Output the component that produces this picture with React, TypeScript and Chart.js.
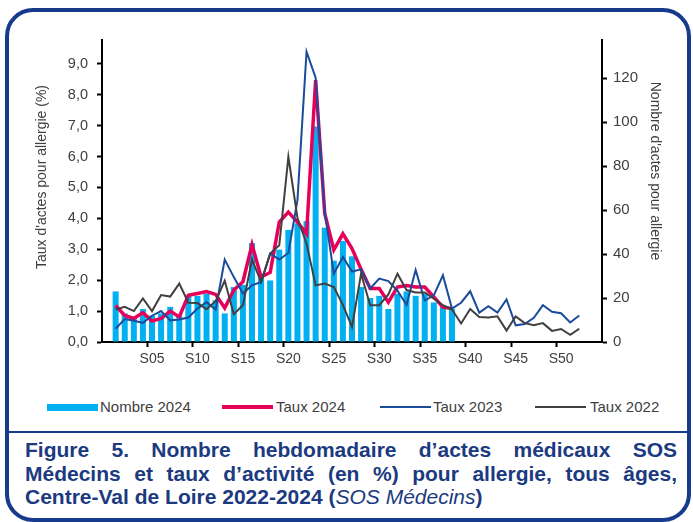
import React, { useEffect, useRef } from 'react';
import { Chart, registerables } from 'chart.js';

Chart.register(...registerables);

const weeks = [
  'S01','S02','S03','S04','S05','S06','S07','S08','S09','S10',
  'S11','S12','S13','S14','S15','S16','S17','S18','S19','S20',
  'S21','S22','S23','S24','S25','S26','S27','S28','S29','S30',
  'S31','S32','S33','S34','S35','S36','S37','S38','S39','S40',
  'S41','S42','S43','S44','S45','S46','S47','S48','S49','S50',
  'S51','S52',
];

const xTickLabels = ['S05','S10','S15','S20','S25','S30','S35','S40','S45','S50'];

const nombre2024 = [
  23, 13, 11, 15, 12, 13, 16, 12, 21, 21,
  22, 19, 13, 25, 26, 45, 31, 28, 42, 51,
  54, 55, 98, 52, 37, 46, 39, 25, 20, 21,
  15, 22, 23, 21, 22, 18, 16, 15,
];

const taux2024 = [
  1.18, 0.86, 0.76, 0.95, 0.68, 0.76, 1.0, 0.81, 1.51, 1.57,
  1.63, 1.54, 1.1, 1.68, 1.95, 3.15, 2.1, 2.25, 3.88, 4.2,
  3.88, 3.5, 8.47, 4.16, 2.98, 3.5, 3.02, 2.35, 1.73, 1.73,
  1.29, 1.78, 1.83, 1.78, 1.78, 1.46, 1.13, 1.08,
];

const taux2023 = [
  0.43, 0.74, 0.69, 0.62, 0.85, 1.0, 0.70, 0.73, 0.79, 1.08,
  1.29, 1.05, 2.67, 2.10, 1.57, 1.83, 1.94, 2.86, 2.67, 2.88,
  4.59, 9.39, 8.55, 4.2, 2.21, 2.75, 2.28, 2.35, 1.73, 2.05,
  1.97, 1.66, 1.2, 2.33, 1.34, 1.51, 2.16, 1.08, 1.27, 1.64,
  0.95, 1.16, 0.95, 1.38, 0.54, 0.58, 0.78, 1.19, 0.98, 0.93,
  0.63, 0.86,
];

const taux2022 = [
  1.05, 1.14, 1.0, 1.41, 1.0, 1.52, 1.47, 1.89, 1.27, 1.26,
  1.06, 1.32, 1.98, 0.9, 1.19, 2.67, 1.94, 2.86, 3.13, 5.99,
  4.02, 3.18, 1.83, 1.89, 1.78, 1.2, 0.49, 2.21, 1.19, 1.19,
  1.54, 2.21, 1.68, 1.6, 1.6, 1.4, 1.19, 1.05, 0.6, 1.07,
  0.81, 0.79, 0.83, 0.37, 0.83, 0.61, 0.54, 0.61, 0.36, 0.42,
  0.23, 0.43,
];

const leftTicks = [0, 1, 2, 3, 4, 5, 6, 7, 8, 9];
const rightTicks = [0, 20, 40, 60, 80, 100, 120];

const categories = ['', ...weeks, '', ''];
const pad = (arr: number[]) => [null, ...arr];

const C_BAR = '#00b0f0';
const C_RED = '#e6005a';
const C_BLUE = '#1a4c9c';
const C_GRAY = '#404040';
const C_FRAME = '#163b8c';
const C_TEXT = '#404040';
const FONT = "'Liberation Sans', Arial, sans-serif";

const axisTitles = {
  id: 'axisTitles',
  afterDraw(chart: any) {
    const ctx = chart.ctx;
    ctx.save();
    ctx.fillStyle = C_TEXT;
    ctx.font = `14px ${FONT}`;
    ctx.textAlign = 'center';
    ctx.textBaseline = 'middle';
    ctx.translate(42, 177);
    ctx.rotate(-Math.PI / 2);
    ctx.fillText("Taux d'actes pour allergie (%)", 0, 0);
    ctx.restore();
    ctx.save();
    ctx.fillStyle = C_TEXT;
    ctx.font = `14px ${FONT}`;
    ctx.textAlign = 'center';
    ctx.textBaseline = 'middle';
    ctx.translate(655, 171);
    ctx.rotate(Math.PI / 2);
    ctx.fillText("Nombre d'actes pour allergie", 0, 0);
    ctx.restore();
  },
};

export default function App() {
  const ref = useRef<HTMLCanvasElement | null>(null);

  useEffect(() => {
    if (!ref.current) return;
    const chart = new Chart(ref.current, {
      type: 'bar',
      data: {
        labels: categories,
        datasets: [
          {
            type: 'line',
            label: 'Taux 2022',
            data: pad(taux2022),
            borderColor: C_GRAY,
            backgroundColor: C_GRAY,
            borderWidth: 2,
            pointRadius: 0,
            tension: 0,
            yAxisID: 'y',
            order: 0,
          },
          {
            type: 'line',
            label: 'Taux 2023',
            data: pad(taux2023),
            borderColor: C_BLUE,
            backgroundColor: C_BLUE,
            borderWidth: 2,
            pointRadius: 0,
            tension: 0,
            yAxisID: 'y',
            order: 1,
          },
          {
            type: 'line',
            label: 'Taux 2024',
            data: pad(taux2024),
            borderColor: C_RED,
            backgroundColor: C_RED,
            borderWidth: 3.5,
            pointRadius: 0,
            tension: 0,
            yAxisID: 'y',
            order: 2,
          },
          {
            type: 'bar',
            label: 'Nombre 2024',
            data: pad(nombre2024),
            backgroundColor: C_BAR,
            borderWidth: 0,
            barPercentage: 0.66,
            categoryPercentage: 1,
            yAxisID: 'y1',
            order: 3,
          },
        ] as any,
      },
      options: {
        responsive: false,
        maintainAspectRatio: false,
        animation: false,
        layout: { padding: { top: 40, left: 0, right: 0, bottom: 0 } },
        plugins: {
          legend: { display: false },
          tooltip: { enabled: false },
        },
        scales: {
          x: {
            type: 'category',
            offset: true,
            grid: {
              offset: true,
              drawOnChartArea: false,
              drawTicks: true,
              tickLength: 5,
              tickWidth: 2,
              tickColor: (c: any) => (c.index % 5 === 0 && c.index > 0 ? '#000' : 'rgba(0,0,0,0)'),
            },
            border: { display: true, color: '#000', width: 2 },
            ticks: {
              autoSkip: false,
              maxRotation: 0,
              minRotation: 0,
              padding: 4,
              color: C_TEXT,
              font: { family: FONT, size: 14 },
              callback: (_v: any, i: number) =>
                xTickLabels.includes(categories[i]) ? categories[i] : '',
            },
            afterFit: (s: any) => {
              s.height = 38;
            },
          },
          y: {
            type: 'linear',
            position: 'left',
            min: 0,
            max: 9.77,
            grid: {
              drawOnChartArea: false,
              drawTicks: true,
              tickLength: 5,
              tickWidth: 2,
              tickColor: '#000',
            },
            border: { display: true, color: '#000', width: 2 },
            afterBuildTicks: (s: any) => {
              s.ticks = leftTicks.map((v) => ({ value: v }));
            },
            ticks: {
              padding: 9,
              color: C_TEXT,
              font: { family: FONT, size: 14.5 },
              callback: (v: any) => Number(v).toFixed(1).replace('.', ','),
            },
            afterFit: (s: any) => {
              s.width = 102;
            },
          },
          y1: {
            type: 'linear',
            position: 'right',
            min: 0,
            max: 137.4,
            grid: {
              drawOnChartArea: false,
              drawTicks: true,
              tickLength: 5,
              tickWidth: 2,
              tickColor: '#000',
            },
            border: { display: true, color: '#000', width: 2 },
            afterBuildTicks: (s: any) => {
              s.ticks = rightTicks.map((v) => ({ value: v }));
            },
            ticks: {
              padding: 6,
              color: C_TEXT,
              font: { family: FONT, size: 15 },
              callback: (v: any) => String(v),
            },
            afterFit: (s: any) => {
              s.width = 91;
            },
          },
        },
      } as any,
      plugins: [axisTitles],
    });
    return () => chart.destroy();
  }, []);

  const legendItems = [
    { label: 'Nombre 2024', color: C_BAR, h: 7, sx: 47, tx: 100 },
    { label: 'Taux 2024', color: C_RED, h: 3.5, sx: 222, tx: 276 },
    { label: 'Taux 2023', color: C_BLUE, h: 2, sx: 380, tx: 433 },
    { label: 'Taux 2022', color: C_GRAY, h: 2, sx: 535, tx: 590 },
  ];

  const capStyle: React.CSSProperties = {
    whiteSpace: 'nowrap',
    height: 23.5,
    lineHeight: '23.5px',
  };

  return (
    <div style={{ position: 'fixed', left: 0, top: 0, width: 693, height: 522, background: '#fff', overflow: 'hidden' }}>
      <div
        style={{
          position: 'absolute',
          left: 5,
          top: 8,
          width: 686,
          height: 514,
          boxSizing: 'border-box',
          border: `4px solid ${C_FRAME}`,
          borderRadius: 28,
        }}
      />
      <div style={{ position: 'absolute', left: 7, top: 431, width: 682, height: 2, background: C_FRAME }} />
      <canvas ref={ref} width={693} height={380} style={{ position: 'absolute', left: 0, top: 0, width: 693, height: 380 }} />
      {legendItems.map((it) => (
        <React.Fragment key={it.label}>
          <div style={{ position: 'absolute', left: it.sx, top: 407 - it.h / 2, width: 51, height: it.h, background: it.color }} />
          <div
            style={{
              position: 'absolute',
              left: it.tx,
              top: 398,
              height: 18,
              lineHeight: '18px',
              fontFamily: FONT,
              fontSize: 15,
              color: C_TEXT,
              whiteSpace: 'nowrap',
            }}
          >
            {it.label}
          </div>
        </React.Fragment>
      ))}
      <div
        style={{
          position: 'absolute',
          left: 25,
          top: 438,
          width: 652,
          fontFamily: FONT,
          fontWeight: 'bold',
          fontSize: 21,
          color: '#1b3a80',
        }}
      >
        <div style={{ ...capStyle, textAlign: 'justify', textAlignLast: 'justify' }}>
          Figure 5. Nombre hebdomadaire d’actes médicaux SOS
        </div>
        <div style={{ ...capStyle, textAlign: 'justify', textAlignLast: 'justify' }}>
          Médecins et taux d’activité (en %) pour allergie, tous âges,
        </div>
        <div style={capStyle}>
          Centre-Val de Loire 2022-2024 (<span style={{ fontStyle: 'italic', fontWeight: 'normal' }}>SOS Médecins</span>)
        </div>
      </div>
    </div>
  );
}
